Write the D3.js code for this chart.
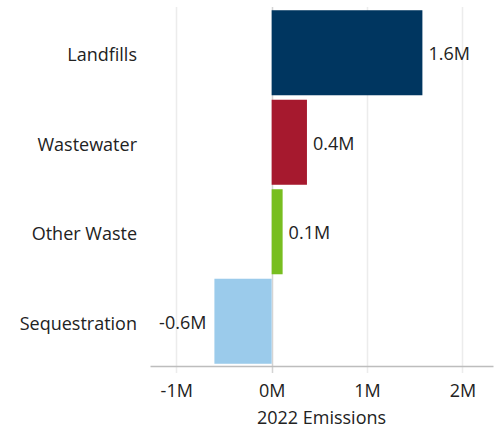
<!DOCTYPE html>
<html>
<head>
<meta charset="utf-8">
<script src="https://cdn.jsdelivr.net/npm/d3@7"></script>
<style>
  html, body { margin: 0; padding: 0; background: #fff; }
  svg { display: block; }
  text { font-family: "Open Sans", "Noto Sans", sans-serif; fill: #222; }
</style>
</head>
<body>
<svg id="chart" width="498" height="430"></svg>
<script>
// Waste-sector emissions, 2022 (millions of tonnes)
const categories = ["Landfills", "Wastewater", "Other Waste", "Sequestration"];
const emissions = [1.58, 0.37, 0.115, -0.6];
const barColors = ["#003660", "#a6192e", "#78be20", "#9bcbeb"];
const tickValues = [-1, 0, 1, 2];
const axisTitle = "2022 Emissions";

const svg = d3.select("#chart");
const FONT = "18px";

const x = d3.scaleLinear().domain([-1.275, 2.32]).range([150, 493]);
const y = d3.scaleBand().domain(categories).range([8, 366])
  .paddingInner(0.05).paddingOuter(0.025);

// plain hyphen for negatives
const locale = d3.formatLocale({
  decimal: ".", thousands: ",", grouping: [3], currency: ["$", ""], minus: "-"
});
const fmt = v => locale.format(".1f")(v) + "M";
const tickFmt = v => locale.format("d")(v) + "M";

// vertical gridlines
svg.append("g")
  .selectAll("line")
  .data(tickValues)
  .join("line")
  .attr("x1", d => Math.round(x(d)) + 0.5)
  .attr("x2", d => Math.round(x(d)) + 0.5)
  .attr("y1", 7)
  .attr("y2", 373)
  .attr("stroke", d => d === 0 ? "#d4d4d4" : "#ececec")
  .attr("stroke-width", 1.5);

// bars
svg.append("g")
  .selectAll("rect")
  .data(categories)
  .join("rect")
  .attr("x", (d, i) => x(Math.min(0, emissions[i])))
  .attr("width", (d, i) => Math.abs(x(emissions[i]) - x(0)))
  .attr("y", d => y(d))
  .attr("height", y.bandwidth())
  .attr("fill", (d, i) => barColors[i]);

// value labels
svg.append("g")
  .selectAll("text")
  .data(categories)
  .join("text")
  .attr("x", (d, i) => emissions[i] >= 0 ? x(emissions[i]) + 6 : x(emissions[i]) - 8)
  .attr("y", d => y(d) + y.bandwidth() / 2)
  .attr("dy", "0.42em")
  .attr("text-anchor", (d, i) => emissions[i] >= 0 ? "start" : "end")
  .style("font-size", FONT)
  .text((d, i) => fmt(emissions[i]));

// category labels
svg.append("g")
  .selectAll("text")
  .data(categories)
  .join("text")
  .attr("x", 137)
  .attr("y", d => y(d) + y.bandwidth() / 2)
  .attr("dy", "0.47em")
  .attr("text-anchor", "end")
  .style("font-size", FONT)
  .text(d => d);

// x axis
const xAxis = svg.append("g")
  .attr("transform", "translate(0,366)")
  .call(d3.axisBottom(x).tickValues(tickValues).tickFormat(tickFmt).tickSize(0).tickPadding(18));
xAxis.select(".domain").attr("stroke", "#bdbdbd").attr("stroke-width", 1.5);
xAxis.selectAll("text")
  .style("font-size", FONT)
  .style("font-family", "'Open Sans', 'Noto Sans', sans-serif")
  .attr("fill", "#222");

svg.append("text")
  .attr("x", (x.range()[0] + x.range()[1]) / 2)
  .attr("y", 424)
  .attr("text-anchor", "middle")
  .style("font-size", FONT)
  .text(axisTitle);
</script>
</body>
</html>
